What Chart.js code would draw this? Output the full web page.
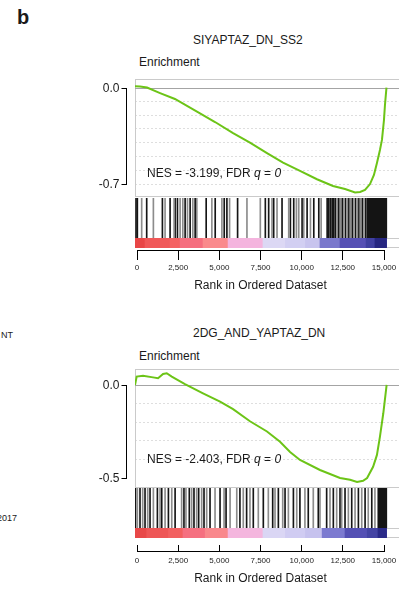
<!DOCTYPE html>
<html>
<head>
<meta charset="utf-8">
<script src="https://cdn.jsdelivr.net/npm/chart.js@4.4.0/dist/chart.umd.min.js"></script>
<style>
  body { margin: 0; background: #fff; }
  #fig { position: relative; width: 409px; height: 591px; overflow: hidden;
         font-family: "Liberation Sans", Arial, Helvetica, sans-serif; color: #1a1a1a; }
  #fig canvas { position: absolute; }
  .t { position: absolute; white-space: nowrap; font-size: 12px; line-height: 12px; }
</style>
</head>
<body>
<div id="fig">
  <div class="t" style="left:17px;top:7px;font-size:20px;line-height:20px;font-weight:bold">b</div>
  <div class="t" style="left:1px;top:331px;font-size:9px;line-height:9px">NT</div>
  <div class="t" style="left:-3px;top:514px;font-size:9px;line-height:9px">2017</div>

  <div class="t" style="left:193px;top:34px">SIYAPTAZ_DN_SS2</div>
  <div class="t" style="left:139px;top:56px">Enrichment</div>
  <canvas id="hits1" width="264" height="40" style="left:135px;top:198px"></canvas>
  <canvas id="heat1" width="264" height="10" style="left:135px;top:238px"></canvas>
  <canvas id="es1" width="319" height="126" style="left:90px;top:75px"></canvas>
  <canvas id="ax1" width="287" height="54" style="left:117px;top:240px"></canvas>
  <div class="t" style="left:147px;top:167px">NES = -3.199, FDR <i>q</i> = <i>0</i></div>

  <div class="t" style="left:193px;top:327px">2DG_AND_YAPTAZ_DN</div>
  <div class="t" style="left:139px;top:350px">Enrichment</div>
  <canvas id="hits2" width="264" height="40" style="left:135px;top:488px"></canvas>
  <canvas id="heat2" width="264" height="10" style="left:135px;top:528px"></canvas>
  <canvas id="es2" width="319" height="127" style="left:90px;top:365px"></canvas>
  <canvas id="ax2" width="287" height="46" style="left:117px;top:545px"></canvas>
  <div class="t" style="left:147px;top:453px">NES = -2.403, FDR <i>q</i> = <i>0</i></div>
</div>

<script>
// ---- data ----
const xMax = 15800;          // right edge of the plot frame (rank units)
const heatEnd = 15050;       // last rank in the ordered list
const rankTicks = [0, 2500, 5000, 7500, 10000, 12500, 15000];
const rankTickLabels = ["0", "2,500", "5,000", "7,500", "10,000", "12,500", "15,000"];

// panel 1: SIYAPTAZ_DN_SS2
const es1Rank  = [0, 300, 720, 1500, 2390, 3710, 4790, 5870, 6880, 7900, 8860, 9875, 10890, 11850,
                  12570, 13170, 13470, 13765, 14065, 14300, 14480, 14660, 14780, 14900, 14960, 15050];
const es1Score = [0.01, 0.007, 0, -0.04, -0.083, -0.175, -0.25, -0.33, -0.40, -0.475, -0.544, -0.605,
                  -0.665, -0.714, -0.736, -0.761, -0.758, -0.743, -0.70, -0.634, -0.547, -0.453,
                  -0.38, -0.236, -0.127, 0];
const es1Ticks  = [0, -0.7];
const es1Labels = ["0.0", "-0.7"];
const hits1Dark = [60, 140, 700, 1640, 2100, 2400, 2540, 3000, 3300, 3600, 4260, 4800, 5340, 5500,
                   6140, 7800, 8000, 8300, 8800, 9300, 9500, 10000, 10300, 10700, 11000, 11500, 11600,
                   11700, 11800, 11900, 12000, 12200, 12400, 12600, 12800, 13000, 13200, 13400, 13600,
                   13800, 13900, 13960, 14020, 14080, 14140, 14200, 14260, 14320, 14380, 14440, 14500,
                   14560, 14620, 14680, 14740, 14800, 14860, 14920, 14980, 15040];
const hits1Mid  = [400, 1100, 1800, 2340, 2700, 2860, 3140, 3460, 3700, 4600, 5200, 5660, 6700, 7500,
                   8200, 8500, 9200, 9660, 9800, 10100, 10500, 11140, 12100, 12300, 12500, 12700,
                   12900, 13100, 13300, 13500, 13700];
const heat1Start = [0, 600, 2100, 2700, 4070, 5570, 7660, 9000, 10200, 11070, 12270, 13830, 14360];
const heat1Color = ["#e84646", "#f05858", "#f46262", "#f56e7e", "#fa8a8c", "#f4b4de", "#dcd8f4",
                    "#d2cff2", "#c8c4ee", "#7a78cc", "#5650b4", "#4040a0", "#262680"];

// panel 2: 2DG_AND_YAPTAZ_DN
const es2Rank  = [0, 100, 480, 1080, 1380, 1680, 1900, 2200, 2990, 4070, 5090, 5870, 6880, 7900,
                  8680, 9280, 9875, 11070, 12270, 12870, 13290, 13650, 13890, 14250, 14480, 14660,
                  14860, 15060];
const es2Score = [0, 0.045, 0.05, 0.041, 0.036, 0.059, 0.063, 0.045, 0.005, -0.045, -0.09, -0.13,
                  -0.195, -0.25, -0.305, -0.36, -0.403, -0.457, -0.50, -0.51, -0.522, -0.515, -0.50,
                  -0.44, -0.376, -0.278, -0.152, 0];
const es2Ticks  = [0, -0.5];
const es2Labels = ["0.0", "-0.5"];
const hits2Dark = [30, 300, 600, 900, 1340, 1600, 2000, 2400, 2930, 3250, 3530, 3810, 4130, 4490,
                   5090, 5450, 6280, 6680, 7080, 7680, 8240, 8580, 8980, 9480, 9870, 10370, 10970,
                   11470, 11870, 12270, 12570, 12970, 13370, 13770, 14170, 14560, 14620, 14680,
                   14740, 14800, 14860, 14920, 14980, 15040];
const hits2Mid  = [140, 460, 760, 1100, 1500, 1800, 2200, 2790, 3050, 3390, 3690, 3990, 4290, 4790,
                   5330, 5690, 6090, 6480, 6880, 7380, 7980, 8380, 8840, 9180, 9680, 10170, 10670,
                   11070, 11670, 12070, 12370, 12770, 13170, 13570, 13960, 14360];
const heat2Start = [0, 700, 2000, 2870, 4200, 5570, 7660, 9000, 10200, 11200, 12570, 13900, 14540];
const heat2Color = ["#e84848", "#ee5656", "#f26060", "#f57080", "#f9888c", "#f4b6de", "#dad6f4",
                    "#d0ccf2", "#c6c2ee", "#7c7ad0", "#5450b4", "#4444a4", "#2a2a88"];

// ---- drawing ----
const FONT = '"Liberation Sans", Arial, Helvetica, sans-serif';
const GREEN = "#6cc417";
Chart.defaults.font.family = FONT;

// frame lines, zero line and the bracket style y axis
const framePlugin = {
  id: "frame",
  beforeDatasetsDraw(chart, args, o) {
    const { ctx, chartArea: a } = chart;
    ctx.save();
    ctx.lineWidth = 1;
    ctx.strokeStyle = "#cacaca";
    (o.sides || []).forEach(s => {
      ctx.beginPath();
      if (s === "top")    { ctx.moveTo(a.left, a.top + .5);    ctx.lineTo(a.right, a.top + .5); }
      if (s === "bottom") { ctx.moveTo(a.left, a.bottom - .5); ctx.lineTo(a.right, a.bottom - .5); }
      if (s === "left")   { ctx.moveTo(a.left + .5, a.top);    ctx.lineTo(a.left + .5, a.bottom); }
      ctx.stroke();
    });
    if (o.zero) {
      const y = Math.round(chart.scales.y.getPixelForValue(0)) + .5;
      ctx.strokeStyle = "#a4a4a4";
      ctx.beginPath(); ctx.moveTo(a.left, y); ctx.lineTo(a.right, y); ctx.stroke();
    }
    ctx.restore();
  },
  afterDraw(chart, args, o) {
    if (!o.bracket) return;
    const { ctx, chartArea: a } = chart;
    const ys = o.bracket.map(v => Math.round(chart.scales.y.getPixelForValue(v)) + .5);
    const x = a.left - 8.5;
    ctx.save();
    ctx.strokeStyle = "#000";
    ctx.lineWidth = 1;
    ctx.beginPath();
    ctx.moveTo(x, ys[0]); ctx.lineTo(x, ys[ys.length - 1]);
    ys.forEach(y => { ctx.moveTo(x - 5, y); ctx.lineTo(x + .5, y); });
    ctx.stroke();
    ctx.fillStyle = "#1a1a1a";
    ctx.font = "12px " + FONT;
    ctx.textAlign = "right";
    ctx.textBaseline = "middle";
    ys.forEach((y, i) => ctx.fillText(o.labels[i], x - 7, y));
    ctx.restore();
  }
};
Chart.register(framePlugin);

const base = {
  responsive: false,
  animation: false,
  events: [],
  plugins: { legend: { display: false }, tooltip: { enabled: false } }
};

const isStep = (v, step) => Math.abs(v / step - Math.round(v / step)) < 1e-6;

function enrichment(id, ranks, scores, yMin, yMax, bracket, labels) {
  new Chart(document.getElementById(id), {
    type: "line",
    data: {
      datasets: [{
        data: ranks.map((r, i) => ({ x: r, y: scores[i] })),
        borderColor: GREEN,
        borderWidth: 2,
        pointRadius: 0,
        tension: 0
      }]
    },
    options: {
      ...base,
      layout: { padding: { left: 45, right: 10, top: 4, bottom: 4 } },
      plugins: { ...base.plugins, frame: { sides: ["top", "left", "bottom"], zero: true, bracket, labels } },
      scales: {
        x: {
          type: "linear", min: 0, max: xMax,
          afterFit: s => { s.height = 0; },
          ticks: { display: false, stepSize: 2500 },
          border: { display: false, dash: [2, 2] },
          grid: {
            drawTicks: false,
            color: c => (c.tick.value > 0 && c.tick.value < xMax && isStep(c.tick.value, 2500)) ? "#d6d6d6" : "rgba(0,0,0,0)"
          }
        },
        y: {
          min: yMin, max: yMax,
          afterFit: s => { s.width = 0; },
          ticks: { display: false, stepSize: 0.1 },
          border: { display: false, dash: [2, 2] },
          grid: {
            drawTicks: false,
            color: c => {
              const v = c.tick.value;
              return (Math.abs(v) > 1e-6 && isStep(v, 0.1) && v > yMin && v < yMax) ? "#dedede" : "rgba(0,0,0,0)";
            }
          }
        }
      }
    }
  });
}

function hits(id, dark, mid) {
  new Chart(document.getElementById(id), {
    type: "bar",
    data: {
      datasets: [
        { data: mid.map(r => ({ x: r, y: 1 })), backgroundColor: "#8c8c8c" },
        { data: dark.map(r => ({ x: r, y: 1 })), backgroundColor: "#151515" }
      ]
    },
    options: {
      ...base,
      layout: { padding: 0 },
      datasets: { bar: { barThickness: 1, grouped: false, borderWidth: 0 } },
      scales: {
        x: { type: "linear", min: 0, max: xMax, offset: false, display: false },
        y: { min: 0, max: 1, display: false }
      }
    }
  });
}

function heat(id, starts, colors) {
  // each band runs to the end of the list; later bands paint over earlier ones
  new Chart(document.getElementById(id), {
    type: "bar",
    data: {
      labels: ["heat"],
      datasets: [{
        data: starts.map(s => ({ x: [s, heatEnd], y: "heat" })),
        backgroundColor: colors,
        borderWidth: 0,
        categoryPercentage: 1,
        barPercentage: 1,
        grouped: false
      }]
    },
    options: {
      ...base,
      indexAxis: "y",
      layout: { padding: 0 },
      plugins: { ...base.plugins, frame: { sides: ["top", "bottom"] } },
      scales: {
        x: { type: "linear", min: 0, max: xMax, offset: false, display: false },
        y: { type: "category", display: false }
      }
    }
  });
}

function rankAxis(id, up, axisH, tickPad, titlePad, padTop) {
  new Chart(document.getElementById(id), {
    type: "scatter",
    data: { datasets: [] },
    options: {
      ...base,
      layout: { padding: { left: 20, right: 20, top: padTop, bottom: 0 } },
      scales: {
        x: {
          type: "linear", min: 0, max: 15000,
          afterBuildTicks: s => { s.ticks = rankTicks.map(v => ({ value: v })); },
          afterFit: s => { s.height = axisH; },
          ticks: {
            callback: (v, i) => rankTickLabels[i],
            font: { size: 8 }, color: "#222", padding: tickPad,
            maxRotation: 0, autoSkip: false
          },
          grid: { drawOnChartArea: up, drawTicks: !up, tickLength: 10, tickColor: "#000", color: "#000" },
          border: { color: "#000", width: 1 },
          title: {
            display: true, text: "Rank in Ordered Dataset",
            font: { size: 12 }, color: "#1a1a1a",
            padding: { top: 0, bottom: titlePad }
          }
        },
        y: { display: false, min: 0, max: 1 }
      }
    }
  });
}

hits("hits1", hits1Dark, hits1Mid);
heat("heat1", heat1Start, heat1Color);
enrichment("es1", es1Rank, es1Score, -0.794, 0.062, es1Ticks, es1Labels);
rankAxis("ax1", false, 44, 3, 1, 0);

hits("hits2", hits2Dark, hits2Mid);
heat("heat2", heat2Start, heat2Color);
enrichment("es2", es2Rank, es2Score, -0.554, 0.086, es2Ticks, es2Labels);
rankAxis("ax2", true, 40, 5, 5, 0);
</script>
</body>
</html>
